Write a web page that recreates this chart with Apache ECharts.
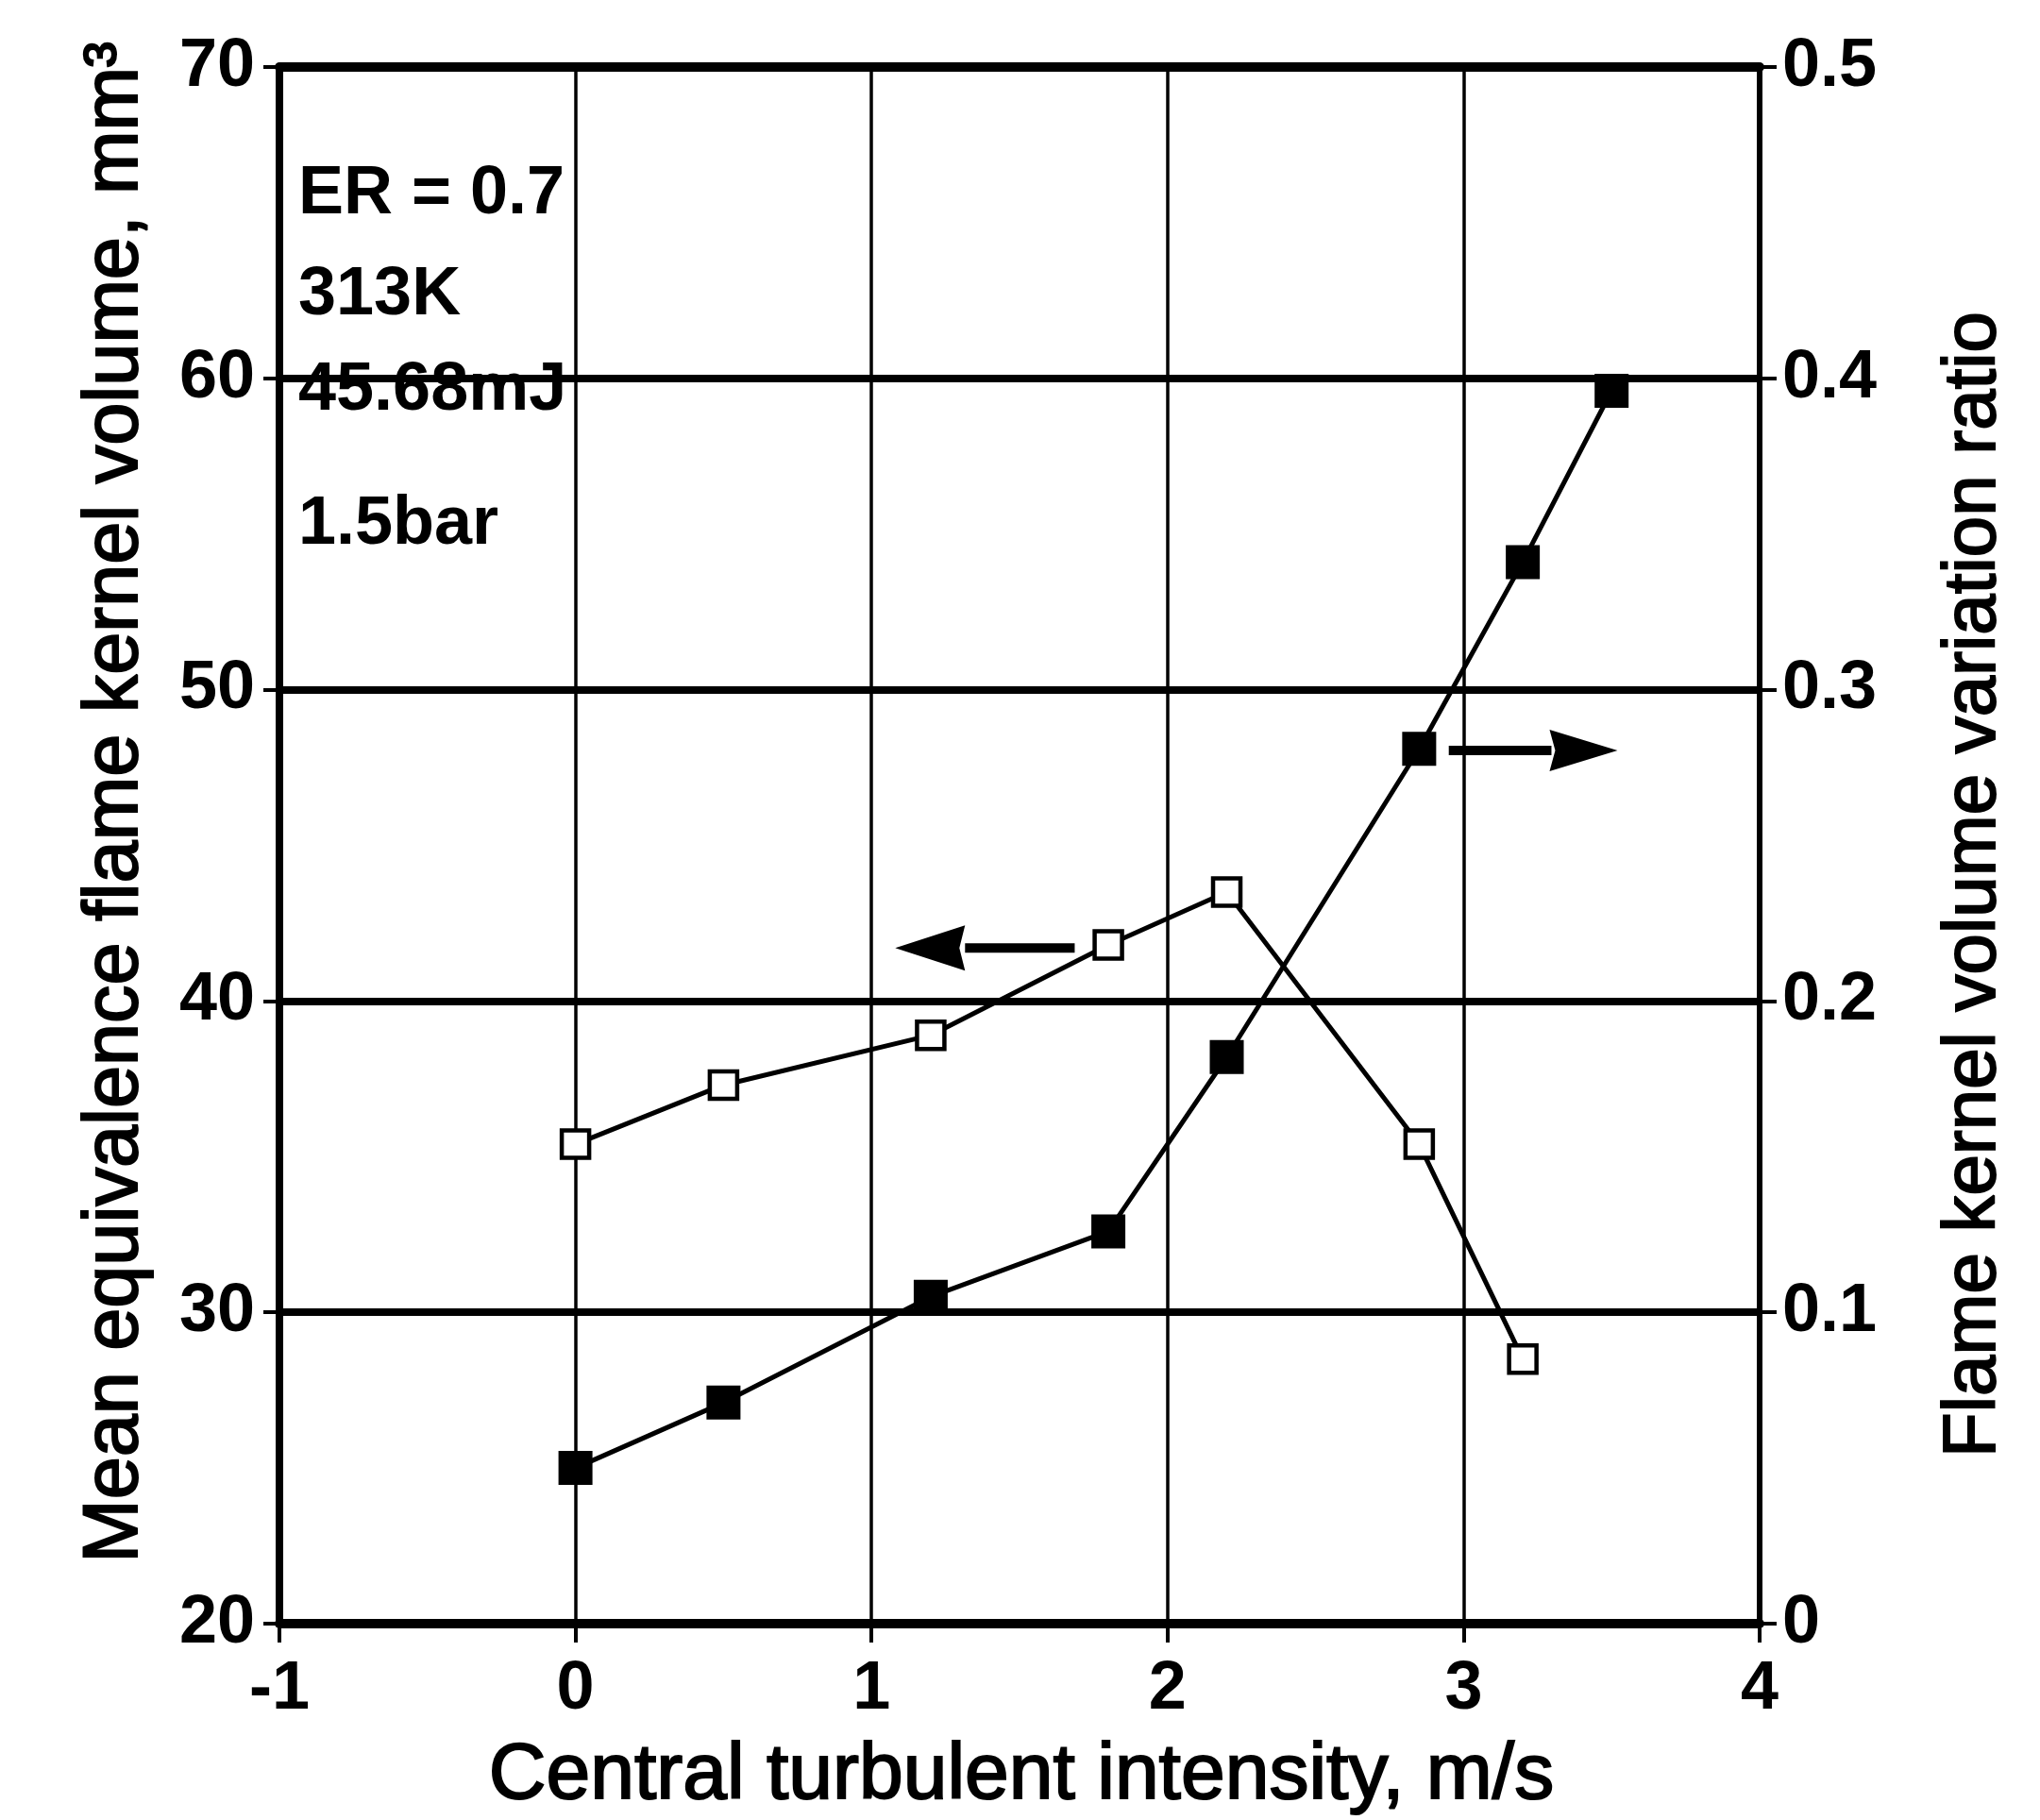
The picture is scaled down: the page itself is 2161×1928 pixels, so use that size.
<!DOCTYPE html>
<html>
<head>
<meta charset="utf-8">
<script src="https://cdn.jsdelivr.net/npm/echarts@6/dist/echarts.min.js"></script>
<style>
  html, body { margin: 0; padding: 0; background: #ffffff; }
  #chart { width: 2161px; height: 1928px; }
</style>
</head>
<body>
<div id="chart"></div>
<script>
// Central turbulent intensity (m/s) for each measurement
const volumeIntensity = [0, 0.5, 1.2, 1.8, 2.2, 2.85, 3.2];
// Mean equivalence flame kernel volume, mm^3 (left axis, open squares)
const meanKernelVolume = [35.4, 37.3, 38.9, 41.8, 43.5, 35.4, 28.5];

const ratioIntensity = [0, 0.5, 1.2, 1.8, 2.2, 2.85, 3.2, 3.5];
// Flame kernel volume variation ratio (right axis, filled squares)
const variationRatio = [0.05, 0.071, 0.105, 0.126, 0.182, 0.281, 0.341, 0.396];

// Axis ticks
const xTicks = [-1, 0, 1, 2, 3, 4];
const leftTicks = [20, 30, 40, 50, 60, 70];
const rightTicks = [0, 0.1, 0.2, 0.3, 0.4, 0.5];

// Direction arrows: [x, y] start (tail) and end (tip) in data units
const volumeArrow = [[1.68, 41.7], [1.08, 41.7]];      // left axis
const ratioArrow = [[2.95, 0.2805], [3.52, 0.2805]];   // right axis

// Test conditions
const conditionLines = ['ER = 0.7', '313K', '45.68mJ', '1.5bar'];

const FONT = "'Liberation Sans', Arial, Helvetica, sans-serif";
const INK = '#000000';

const chart = echarts.init(document.getElementById('chart'), null, { renderer: 'canvas' });

const pairs = (xs, ys) => xs.map((x, i) => [x, ys[i]]);
const step = (t) => t[1] - t[0];

const tickLabelStyle = {
  color: INK, fontFamily: FONT, fontSize: 72, fontWeight: 'bold'
};

const option = {
  animation: false,
  backgroundColor: '#ffffff',
  grid: { left: 296, right: 297, top: 71, bottom: 208, containLabel: false, outerBoundsMode: 'none' },
  xAxis: [
    {
      type: 'value',
      position: 'bottom',
      min: xTicks[0], max: xTicks[xTicks.length - 1], interval: step(xTicks),
      axisLine: { show: true, onZero: false, lineStyle: { color: INK, width: 10 } },
      axisTick: { show: true, inside: false, length: 20, lineStyle: { color: INK, width: 4 } },
      axisLabel: Object.assign({ margin: 34 }, tickLabelStyle),
      splitLine: { show: true, lineStyle: { color: INK, width: 3.5 } }
    },
    {
      type: 'value',
      position: 'top',
      min: xTicks[0], max: xTicks[xTicks.length - 1], interval: step(xTicks),
      axisLine: { show: true, onZero: false, lineStyle: { color: INK, width: 10 } },
      axisTick: { show: false },
      axisLabel: { show: false },
      splitLine: { show: false }
    }
  ],
  yAxis: [
    {
      type: 'value',
      position: 'left',
      min: leftTicks[0], max: leftTicks[leftTicks.length - 1], interval: step(leftTicks),
      axisLine: { show: true, onZero: false, lineStyle: { color: INK, width: 8 } },
      axisTick: { show: true, inside: false, length: 17, lineStyle: { color: INK, width: 4 } },
      axisLabel: Object.assign({ margin: 26 }, tickLabelStyle),
      splitLine: { show: true, lineStyle: { color: INK, width: 8 } }
    },
    {
      type: 'value',
      position: 'right',
      min: rightTicks[0], max: rightTicks[rightTicks.length - 1], interval: step(rightTicks),
      axisLine: { show: true, onZero: false, lineStyle: { color: INK, width: 6 } },
      axisTick: { show: true, inside: false, length: 18, lineStyle: { color: INK, width: 4 } },
      axisLabel: Object.assign({
        margin: 24,
        formatter: (v) => String(Math.round(v * 10) / 10)
      }, tickLabelStyle),
      splitLine: { show: false }
    }
  ],
  series: [
    {
      name: 'Mean equivalence flame kernel volume',
      type: 'line',
      xAxisIndex: 0, yAxisIndex: 0,
      data: pairs(volumeIntensity, meanKernelVolume),
      symbol: 'rect', symbolSize: 29, showSymbol: true,
      itemStyle: { color: '#ffffff', borderColor: INK, borderWidth: 4.5 },
      lineStyle: { color: INK, width: 5 },
      z: 4
    },
    {
      name: 'Flame kernel volume variation ratio',
      type: 'line',
      xAxisIndex: 0, yAxisIndex: 1,
      data: pairs(ratioIntensity, variationRatio),
      symbol: 'rect', symbolSize: 36, showSymbol: true,
      itemStyle: { color: INK, borderWidth: 0 },
      lineStyle: { color: INK, width: 5 },
      z: 4
    }
  ]
};

chart.setOption(option);

// Arrow built from a shaft and a triangular head, positioned on the axes' scale
function arrowShapes(seg, yAxisIndex, headLen, headHalf, shaft) {
  const a = chart.convertToPixel({ xAxisIndex: 0, yAxisIndex: yAxisIndex }, seg[0]);
  const b = chart.convertToPixel({ xAxisIndex: 0, yAxisIndex: yAxisIndex }, seg[1]);
  const dir = Math.sign(b[0] - a[0]);
  const backX = b[0] - dir * headLen;
  const y = b[1];
  return [
    {
      type: 'rect', z: 10,
      shape: { x: Math.min(a[0], backX), y: y - shaft / 2, width: Math.abs(backX - a[0]) + 2, height: shaft },
      style: { fill: INK }
    },
    {
      type: 'polygon', z: 10,
      shape: { points: [[b[0], y], [backX, y - headHalf], [backX + dir * 6, y], [backX, y + headHalf]] },
      style: { fill: INK }
    }
  ];
}

const textBase = { fill: INK, fontFamily: FONT, fontSize: 72, fontWeight: 'bold', textVerticalAlign: 'middle', textAlign: 'left' };
const conditionY = [206, 313, 414, 556];

const graphics = [];
conditionLines.forEach((t, i) => {
  graphics.push({ type: 'text', x: 316, y: conditionY[i], z: 12, style: Object.assign({ text: t }, textBase) });
});

// Axis titles (a thin outline in the same ink gives a heavier stroke)
const titleStyle = { fill: INK, fontFamily: FONT, textAlign: 'center', textVerticalAlign: 'middle', stroke: INK, lineWidth: 2 };
graphics.push({
  type: 'text', x: 1082, y: 1882, z: 12,
  style: Object.assign({ text: 'Central turbulent intensity, m/s', fontSize: 84 }, titleStyle)
});
graphics.push({
  type: 'text', x: 123, y: 850, rotation: Math.PI / 2, z: 12,
  style: Object.assign({ text: 'Mean equivalence flame kernel volume, mm\u00B3', fontSize: 81 }, titleStyle)
});
graphics.push({
  type: 'text', x: 2091, y: 937, rotation: Math.PI / 2, z: 12,
  style: Object.assign({ text: 'Flame kernel volume variation ratio', fontSize: 78 }, titleStyle)
});

arrowShapes(volumeArrow, 0, 74, 24, 10).forEach(g => graphics.push(g));
arrowShapes(ratioArrow, 1, 72, 22, 10).forEach(g => graphics.push(g));

chart.setOption({ graphic: graphics });
</script>
</body>
</html>
